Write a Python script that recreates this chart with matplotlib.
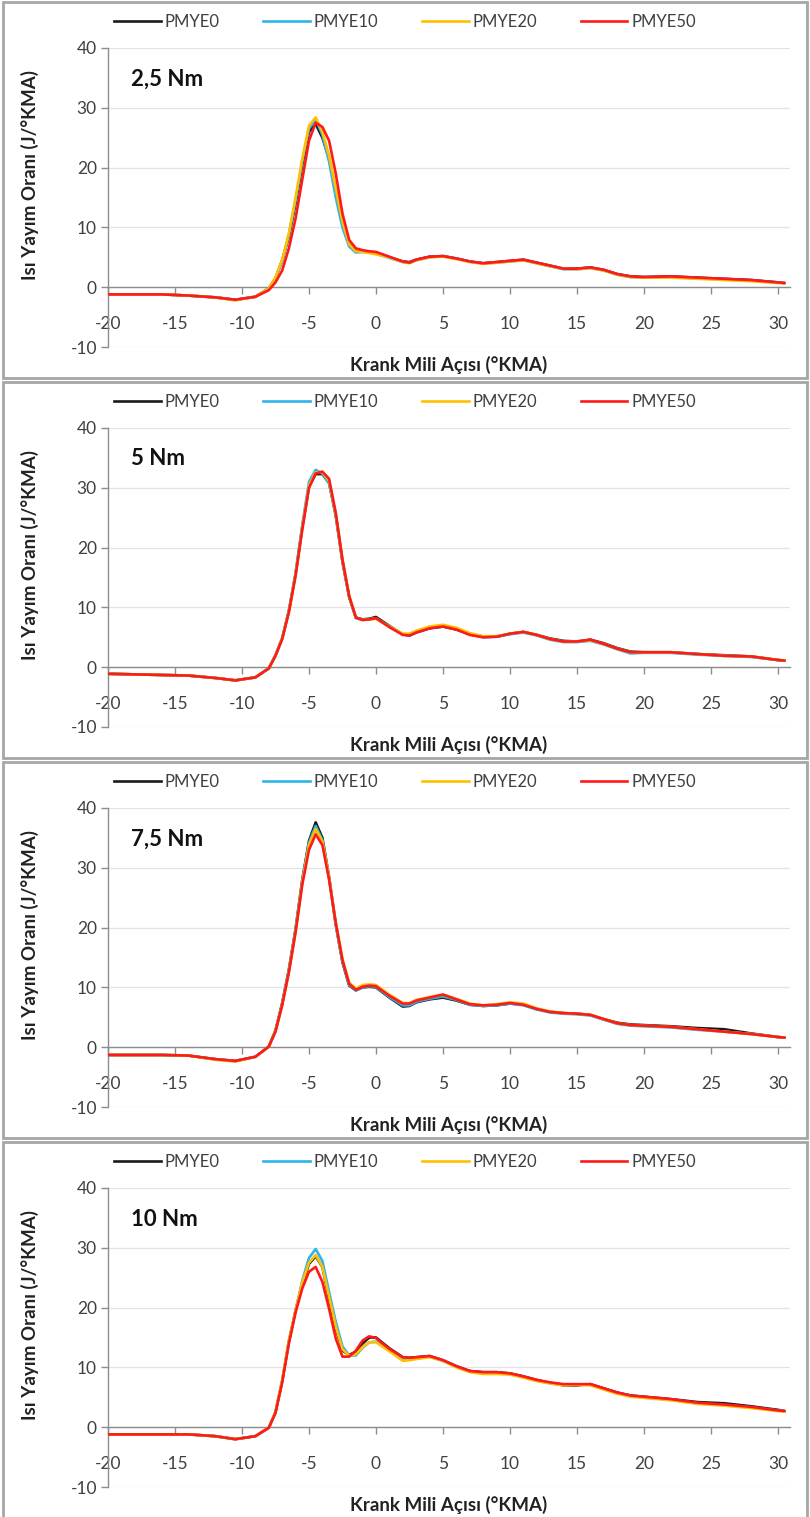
import matplotlib
matplotlib.use("Agg")
import matplotlib.pyplot as plt
from matplotlib.patches import Rectangle
from matplotlib.lines import Line2D

plt.rcParams['font.family'] = ['Lato', 'DejaVu Sans']
plt.rcParams['axes.unicode_minus'] = False

# Crank angle (°KMA)
X = [-20, -18, -16, -14, -12, -10.5, -9, -8, -7.5, -7, -6.5, -6, -5.5, -5, -4.5, -4, -3.5, -3,
     -2.5, -2, -1.5, -1, -0.5, 0, 1, 2, 2.5, 3, 4, 5, 6, 7, 8, 9, 10, 11, 12, 13, 14, 15, 16,
     17, 18, 19, 20, 22, 24, 26, 28, 30, 30.5]

series_names = ["PMYE0", "PMYE10", "PMYE20", "PMYE50"]
panel_labels = ["2,5 Nm", "5 Nm", "7,5 Nm", "10 Nm"]

# ---- 2,5 Nm ----
p1_pmye0 = [-1.2, -1.2, -1.2, -1.4, -1.7, -2.1, -1.6, -0.2, 1.5, 4.5, 8.5, 14.0, 20.5, 26.0, 27.3, 25.0, 21.5, 16.0,
            10.5, 7.2, 6.2, 6.0, 5.9, 5.8, 5.0, 4.3, 4.2, 4.6, 5.1, 5.2, 4.8, 4.3, 4.0, 4.2, 4.4, 4.6, 4.1,
            3.6, 3.1, 3.1, 3.3, 2.9, 2.2, 1.8, 1.7, 1.8, 1.6, 1.4, 1.2, 0.8, 0.7]
p1_pmye10 = [-1.2, -1.2, -1.2, -1.4, -1.7, -2.1, -1.6, -0.2, 1.5, 4.3, 8.8, 14.5, 21.0, 26.5, 28.1, 25.5, 21.0, 15.0,
             10.0, 6.8, 5.8, 5.9, 5.8, 5.6, 4.9, 4.2, 4.1, 4.5, 5.0, 5.2, 4.8, 4.3, 4.0, 4.1, 4.3, 4.5, 4.0,
             3.5, 3.0, 3.0, 3.2, 2.8, 2.1, 1.7, 1.6, 1.7, 1.5, 1.3, 1.1, 0.8, 0.7]
p1_pmye20 = [-1.2, -1.2, -1.2, -1.4, -1.7, -2.2, -1.6, -0.2, 1.6, 4.6, 9.0, 15.0, 21.5, 27.0, 28.4, 26.0, 22.0, 16.5,
             11.0, 7.2, 6.0, 5.9, 5.7, 5.5, 5.0, 4.2, 4.0, 4.5, 5.0, 5.1, 4.7, 4.2, 3.9, 4.1, 4.3, 4.5, 4.0,
             3.5, 3.1, 3.0, 3.2, 2.8, 2.1, 1.7, 1.6, 1.6, 1.4, 1.2, 1.0, 0.7, 0.7]
p1_pmye50 = [-1.2, -1.2, -1.2, -1.4, -1.7, -2.1, -1.6, -0.5, 0.8, 2.8, 6.5, 11.5, 18.0, 24.5, 27.5, 26.8, 24.5, 19.0,
             12.3, 7.9, 6.5, 6.2, 6.0, 5.9, 5.1, 4.3, 4.1, 4.6, 5.1, 5.2, 4.8, 4.3, 4.0, 4.2, 4.4, 4.6, 4.1,
             3.6, 3.1, 3.1, 3.3, 2.9, 2.2, 1.8, 1.7, 1.8, 1.6, 1.4, 1.2, 0.8, 0.7]

# ---- 5 Nm ----
p2_pmye0 = [-1.1, -1.2, -1.3, -1.4, -1.8, -2.2, -1.7, -0.2, 2.0, 4.8, 9.4, 15.6, 23.4, 30.2, 32.3, 32.3, 30.8, 25.3,
            17.6, 11.7, 8.3, 8.0, 8.1, 8.4, 6.9, 5.5, 5.3, 5.8, 6.5, 6.8, 6.3, 5.5, 5.1, 5.1, 5.6, 5.9, 5.4,
            4.8, 4.4, 4.3, 4.6, 4.0, 3.2, 2.6, 2.5, 2.5, 2.2, 2.0, 1.8, 1.2, 1.1]
p2_pmye10 = [-1.1, -1.2, -1.3, -1.4, -1.8, -2.2, -1.7, -0.2, 2.0, 4.9, 9.5, 15.8, 23.8, 31.0, 33.0, 32.4, 30.8, 25.5,
             17.8, 11.8, 8.2, 7.9, 8.0, 8.2, 6.8, 5.5, 5.4, 5.9, 6.6, 6.9, 6.4, 5.5, 5.0, 5.1, 5.5, 5.8, 5.3,
             4.6, 4.2, 4.2, 4.4, 3.8, 3.0, 2.3, 2.4, 2.4, 2.1, 1.9, 1.7, 1.2, 1.1]
p2_pmye20 = [-1.1, -1.2, -1.3, -1.4, -1.8, -2.2, -1.7, -0.2, 1.9, 4.8, 9.3, 15.4, 23.2, 30.4, 32.6, 32.6, 31.2, 25.6,
             17.9, 11.9, 8.3, 7.9, 8.0, 8.1, 6.8, 5.6, 5.6, 6.1, 6.8, 7.1, 6.6, 5.7, 5.2, 5.2, 5.6, 5.9, 5.4,
             4.7, 4.3, 4.3, 4.5, 3.9, 3.1, 2.5, 2.5, 2.5, 2.2, 1.9, 1.8, 1.2, 1.1]
p2_pmye50 = [-1.1, -1.2, -1.3, -1.4, -1.8, -2.2, -1.7, -0.2, 1.9, 4.7, 9.2, 15.3, 23.0, 30.0, 32.4, 32.7, 31.5, 25.8,
             18.0, 11.9, 8.3, 7.9, 8.0, 8.2, 6.7, 5.4, 5.3, 5.8, 6.5, 6.8, 6.3, 5.4, 5.0, 5.1, 5.6, 5.9, 5.4,
             4.7, 4.3, 4.3, 4.6, 3.9, 3.1, 2.5, 2.5, 2.5, 2.2, 1.9, 1.8, 1.2, 1.1]

# ---- 7,5 Nm ----
p3_pmye0 = [-1.3, -1.3, -1.3, -1.4, -2.0, -2.3, -1.6, 0.1, 2.8, 7.4, 13.0, 19.8, 28.0, 34.5, 37.6, 35.0, 28.5, 20.5,
            14.2, 10.3, 9.5, 10.0, 10.1, 10.0, 8.3, 6.8, 6.9, 7.5, 8.0, 8.3, 7.8, 7.1, 6.9, 7.0, 7.3, 7.1, 6.4,
            5.9, 5.7, 5.6, 5.4, 4.7, 4.1, 3.8, 3.7, 3.5, 3.2, 3.0, 2.3, 1.7, 1.6]
p3_pmye10 = [-1.3, -1.3, -1.3, -1.4, -2.0, -2.3, -1.6, 0.1, 2.7, 7.2, 12.8, 19.6, 27.8, 34.2, 37.0, 34.6, 28.3, 20.4,
             14.3, 10.4, 9.5, 10.0, 10.2, 10.1, 8.4, 7.0, 7.0, 7.6, 8.1, 8.5, 7.9, 7.1, 6.9, 7.0, 7.3, 7.0, 6.3,
             5.8, 5.6, 5.5, 5.3, 4.6, 3.9, 3.6, 3.5, 3.3, 2.9, 2.6, 2.2, 1.7, 1.6]
p3_pmye20 = [-1.3, -1.3, -1.3, -1.4, -2.1, -2.4, -1.6, 0.1, 2.7, 7.1, 12.7, 19.4, 27.5, 33.8, 36.5, 34.4, 28.4, 20.8,
             14.7, 10.8, 9.8, 10.4, 10.5, 10.4, 8.8, 7.4, 7.4, 7.9, 8.4, 8.8, 8.1, 7.3, 7.0, 7.2, 7.5, 7.3, 6.5,
             6.0, 5.7, 5.6, 5.4, 4.7, 4.0, 3.7, 3.6, 3.4, 3.0, 2.6, 2.2, 1.7, 1.6]
p3_pmye50 = [-1.3, -1.3, -1.3, -1.4, -2.0, -2.3, -1.6, 0.1, 2.6, 7.0, 12.5, 19.2, 27.2, 33.0, 35.6, 33.8, 28.0, 20.8,
             14.6, 10.6, 9.6, 10.1, 10.3, 10.2, 8.6, 7.3, 7.3, 7.8, 8.3, 8.8, 8.0, 7.2, 7.0, 7.1, 7.4, 7.1, 6.4,
             5.9, 5.7, 5.6, 5.4, 4.7, 4.0, 3.7, 3.6, 3.4, 3.0, 2.6, 2.2, 1.7, 1.6]

# ---- 10 Nm ----
p4_pmye0 = [-1.2, -1.2, -1.2, -1.2, -1.5, -2.0, -1.5, -0.1, 2.5, 7.7, 14.3, 19.5, 24.0, 27.3, 28.6, 26.8, 21.5, 16.5,
            12.8, 12.1, 12.6, 14.0, 15.0, 15.0, 13.2, 11.7, 11.6, 11.7, 11.9, 11.2, 10.2, 9.4, 9.2, 9.2, 9.0, 8.5, 7.9,
            7.4, 7.0, 7.0, 7.2, 6.5, 5.8, 5.3, 5.1, 4.7, 4.2, 4.0, 3.5, 2.9, 2.7]
p4_pmye10 = [-1.2, -1.2, -1.2, -1.2, -1.5, -2.0, -1.5, -0.1, 2.5, 7.7, 14.4, 19.5, 24.5, 28.3, 29.8, 27.8, 22.6, 17.6,
             13.5, 12.0, 12.0, 13.3, 14.2, 14.3, 13.0, 11.5, 11.4, 11.5, 11.8, 11.1, 10.1, 9.3, 9.1, 9.1, 8.9, 8.4, 7.8,
             7.4, 7.1, 7.1, 7.1, 6.4, 5.7, 5.2, 5.0, 4.6, 4.0, 3.7, 3.3, 2.8, 2.7]
p4_pmye20 = [-1.2, -1.2, -1.2, -1.2, -1.5, -2.0, -1.5, -0.1, 2.6, 7.9, 14.5, 19.6, 24.2, 27.5, 28.8, 26.8, 21.8, 16.8,
             13.0, 12.0, 12.2, 13.4, 14.2, 14.2, 12.7, 11.1, 11.2, 11.4, 11.7, 11.1, 10.0, 9.2, 8.9, 8.9, 8.8, 8.3, 7.7,
             7.3, 7.0, 7.1, 7.0, 6.3, 5.6, 5.1, 4.9, 4.5, 3.9, 3.6, 3.2, 2.7, 2.6]
p4_pmye50 = [-1.2, -1.2, -1.2, -1.2, -1.5, -2.0, -1.5, -0.1, 2.4, 7.5, 14.0, 19.2, 23.2, 26.0, 26.8, 24.3, 19.8, 14.8,
             11.8, 11.8, 12.8, 14.5, 15.2, 14.9, 13.1, 11.7, 11.6, 11.7, 11.9, 11.2, 10.2, 9.4, 9.2, 9.2, 9.0, 8.5, 7.9,
             7.5, 7.2, 7.2, 7.2, 6.5, 5.8, 5.3, 5.1, 4.7, 4.1, 3.8, 3.4, 2.8, 2.7]

panels = [
    [p1_pmye0, p1_pmye10, p1_pmye20, p1_pmye50],
    [p2_pmye0, p2_pmye10, p2_pmye20, p2_pmye50],
    [p3_pmye0, p3_pmye10, p3_pmye20, p3_pmye50],
    [p4_pmye0, p4_pmye10, p4_pmye20, p4_pmye50],
]

colors = ["#1a1a1a", "#2db4ea", "#ffc000", "#ff1a1a"]

W, H = 810, 1517
fig = plt.figure(figsize=(W / 100, H / 100), dpi=100)
fig.patch.set_facecolor("white")

axis_color = "#8c8c8c"
text_color = "#404040"

for k in range(4):
    off = 380 * k
    # panel border
    fig.patches.append(Rectangle((3 / W, 1 - (off + 378) / H), 804 / W, 376 / H,
                                 transform=fig.transFigure, fill=False,
                                 edgecolor="#a6a6a6", linewidth=2.0))
    top_px = 48 + off
    bot_px = top_px + 299
    left_px, right_px = 108, 790
    ax = fig.add_axes([left_px / W, 1 - bot_px / H, (right_px - left_px) / W, (bot_px - top_px) / H])
    ax.set_xlim(-20, 30.9)
    ax.set_ylim(-10, 40)
    ax.patch.set_alpha(0)

    for s in range(4):
        ax.plot(X, panels[k][s], color=colors[s], linewidth=1.9, solid_joinstyle="round",
                solid_capstyle="round", zorder=3 + s)

    ax.spines["top"].set_visible(False)
    ax.spines["right"].set_visible(False)
    ax.spines["bottom"].set_position(("data", 0))
    for sp in ("left", "bottom"):
        ax.spines[sp].set_color(axis_color)
        ax.spines[sp].set_linewidth(1.0)

    ax.set_yticks([-10, 0, 10, 20, 30, 40])
    ax.set_xticks(list(range(-20, 31, 5)))
    ax.tick_params(axis="y", direction="out", length=5, width=1, color=axis_color,
                   labelsize=12.5, labelcolor=text_color, pad=3)
    ax.tick_params(axis="x", direction="out", length=5, width=1, color=axis_color,
                   labelsize=12.5, labelcolor=text_color, pad=16)
    ax.yaxis.grid(True, color="#e3e3e3", linewidth=0.9)
    ax.set_axisbelow(True)

    # panel label
    fig.text(131 / W, 1 - (79 + off) / H, panel_labels[k], fontsize=16, fontweight="bold",
             color="#111111", ha="left", va="center")
    # y label
    fig.text(30 / W, 1 - (175 + off) / H, "Isı Yayım Oranı (J/°KMA)", rotation=90,
             fontsize=13.5, fontweight="bold", color="#222222", ha="center", va="center")
    # x label
    fig.text(449 / W, 1 - (365 + off) / H, "Krank Mili Açısı (°KMA)",
             fontsize=13.5, fontweight="bold", color="#222222", ha="center", va="center")

    handles = [Line2D([0], [0], color=c, linewidth=1.9) for c in colors]
    fig.legend(handles, series_names, ncol=4, frameon=False, loc="center",
               bbox_to_anchor=(405 / W, 1 - (22 + off) / H), fontsize=12,
               handlelength=2.8, handletextpad=0.25, columnspacing=2.6, labelcolor=text_color)

fig.savefig("out.png", dpi=100)
